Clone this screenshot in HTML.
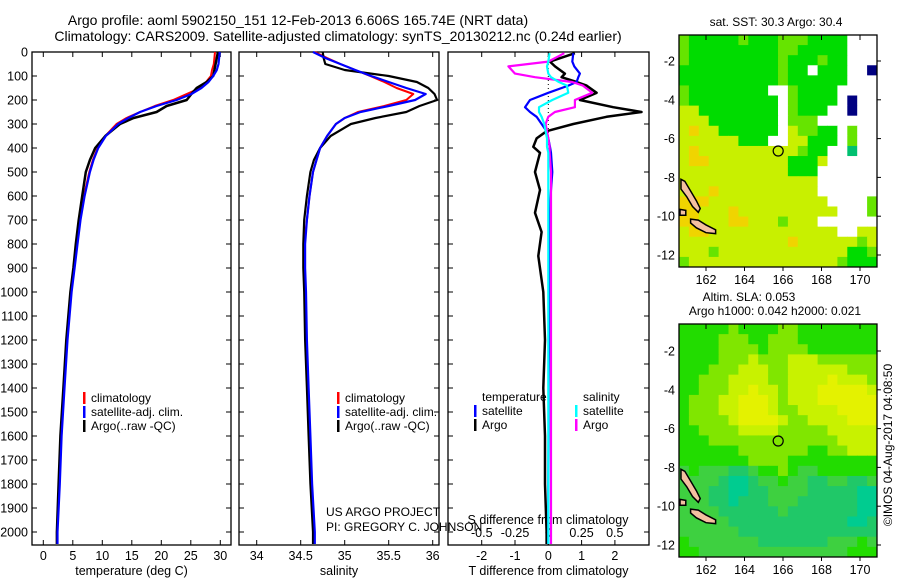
<!DOCTYPE html>
<html><head><meta charset="utf-8"><style>
html,body{margin:0;padding:0;background:#fff;}
svg{display:block;font-family:"Liberation Sans",sans-serif;}
</style></head><body>
<svg id="fig" width="900" height="580" viewBox="0 0 900 580" xmlns="http://www.w3.org/2000/svg">
<rect width="900" height="580" fill="#fff"/>
<text x="298" y="25" font-size="14" text-anchor="middle">Argo profile: aoml 5902150_151 12-Feb-2013 6.606S 165.74E (NRT data)</text>
<text x="338" y="41" font-size="14" text-anchor="middle">Climatology: CARS2009. Satellite-adjusted climatology: synTS_20130212.nc (0.24d earlier)</text>
<g id="p1"></g>
<g id="p2"></g>
<g id="p3"></g>
<g id="m1"></g>
<g id="m2"></g>
<text x="326" y="516" font-size="12">US ARGO PROJECT</text>
<text x="326" y="531" font-size="12">PI: GREGORY C. JOHNSON</text>
<text transform="translate(892,445) rotate(-90)" font-size="12" text-anchor="middle">©IMOS 04-Aug-2017 04:08:50</text>
</svg>
<script>
// ---- profile data ----
const depths = [0,25,50,75,100,125,150,175,200,225,250,275,300,350,400,450,500,600,700,800,900,1000,1200,1400,1600,1800,2000,2050];
const tempClim = [29.1,29.0,28.9,28.6,28.4,27.6,26.6,24.3,22.0,18.9,16.4,14.1,12.4,10.5,9.2,8.4,7.8,6.9,6.2,5.7,5.2,4.7,4.0,3.5,3.0,2.7,2.3,2.3];
const tempSat = [29.9,29.8,29.7,29.4,28.8,28.0,26.8,25.1,22.6,19.2,16.4,14.4,12.7,10.6,9.3,8.5,7.9,7.0,6.3,5.8,5.3,4.8,4.1,3.6,3.1,2.8,2.4,2.4];
const tempArgo = [29.6,29.4,29.2,29.0,28.8,27.7,26.0,25.1,24.3,20.9,19.2,15.3,13.0,10.5,8.8,7.9,7.2,6.6,6.0,5.5,5.1,4.6,3.9,3.4,2.9,2.6,2.3,2.3];
const salClim = [34.66,34.8,34.95,35.12,35.29,35.45,35.59,35.78,35.7,35.45,35.15,35.0,34.9,34.8,34.72,34.68,34.64,34.6,34.57,34.54,34.54,34.55,34.56,34.58,34.6,34.62,34.65,34.65];
const salSat = [34.64,34.78,34.95,35.12,35.3,35.5,35.7,35.92,35.8,35.5,35.18,35.0,34.9,34.8,34.72,34.68,34.64,34.6,34.57,34.55,34.55,34.56,34.57,34.59,34.61,34.63,34.66,34.66];
const salArgo = [34.75,34.76,34.78,35.0,35.5,35.82,35.95,36.02,36.05,35.85,35.7,35.35,35.07,34.84,34.72,34.65,34.61,34.57,34.54,34.53,34.53,34.54,34.55,34.57,34.59,34.61,34.64,34.64];
const diffDepths = [5,40,60,90,105,125,140,170,200,230,250,270,300,330,360,395,420,500,575,670,750,850,1000,1200,1400,1600,1800,2000,2050];
const tDiffArgo = [0.8,0.05,0.2,0.5,0.4,0.85,1.15,1.45,0.95,1.95,2.8,1.75,0.75,-0.05,-0.35,-0.45,-0.25,-0.4,-0.25,-0.4,-0.2,-0.3,-0.15,-0.1,-0.15,-0.1,-0.1,-0.05,-0.05];
const tDiffSat = [0.75,0.72,0.78,0.95,0.9,0.85,0.6,0.0,-0.55,-0.7,-0.55,-0.35,-0.2,-0.05,0.0,0.05,0.08,0.12,0.08,0.05,0.04,0.03,0.02,0.02,0.01,0.01,0.0,0.0,0.0];
const sDiffArgo = [0.12,0.0,-0.3,-0.25,-0.1,0.18,0.26,0.33,0.2,0.2,0.05,0.0,-0.02,-0.01,0.0,0.01,0.01,0.02,0.02,0.02,0.02,0.02,0.02,0.02,0.02,0.02,0.02,0.02,0.02];
const sDiffSat = [0.01,0.0,-0.01,0.0,0.02,0.08,0.14,0.15,0.03,-0.07,-0.07,-0.05,-0.03,-0.02,-0.01,-0.01,0.0,0.0,0.0,0.0,0.0,0.0,0.0,0.0,0.0,0.0,0.0,0.0,0.0];
const depthTicks = [0,100,200,300,400,500,600,700,800,900,1000,1100,1200,1300,1400,1500,1600,1700,1800,1900,2000];
const tempTicks = [0,5,10,15,20,25,30];
const salTicks = [34,34.5,35,35.5,36];
const tDiffTicks = [-2,-1,0,1,2];
const sDiffTicks = [-0.5,-0.25,0,0.25,0.5];
// ---- map data ----
const sstGrid = [
"gGGGGGgGGGgggGGGGwww","gGGGGGGGGGggGGGGGwww","gGGGGGGGGGgGGGgGGwww","GGGGGGGGGGgGGwGGGwwn",
"GGGGGGGGGGgGGGGGGwww","gGGGGGGGGwwgGGGGwwww","gGGGGGGGGGwgGGGGwnww","yyGGGGGGGGwgGGGwwnww",
"yyyGGGGGGGwgggwwwwww","yoyyGGGGGGwyggGGwgww","yyyyyyGGGwwyyGGGwgww","yoyyyyyyyyyygGGwwtww",
"yooyyyyyyyyGGGywwwww","yyyyyyyyyyyGGGwwwwww","yyyyyyyyyyyyyywwwwww","yyyoyyyyyyyyyywwwwww",
"oooyyyyyyyyyyyywwwwg","ooyyyoyyyyyyyyyywwwg","ooyyyooyyygyyywwwwww","yooyyyyyyyyyyyyywwyy",
"yyyyyyyyyyyoyyyyyygy","yyygyyyyyyyyyyyyyGGg","gyyyyyyyyyyyyyyygGGG"];
const slaGrid = [
"GGGGGLGGGGLLGGGGGGGG","GGGGLLLGGLLLGGGGGGGG","GGGGLLLLGLLLLGGGGGGG","GGGGLLLYLLLYYYLLLLLL",
"GGGLLLYYYLLYYYYYYLLL","GGLLLYYYYLLYYYYZYYYL","GGLLLYYZYYLYYYZZZZZY","GLLLYYZZZYLYYYZZZZZZ",
"GLLLYYZZZYLLYYYYZZZZ","GLLLLYZZZZYLLYYYYZZZ","GGLLLLYYYYLLLLLYYYYY","GGGLLLLLLLLLLLLLYYYY",
"GGGGGGLLLLLLLGGLLYYY","GGGGGGGLLLLGGGGGGGGG","MGMMMTTMGGLGMMGGGGGG","MMMMTCCTMMGMMTTMMTTM",
"MMMTTCCTTMMMMTTTTTCC","MMMTTCTTTMMMTTTTTTCC","MMMMTTTTTTMTTTTTTTCC","MMMMMTTTTTTTTTTTTCCT",
"MMMMMMTTTTTTTTTTTTTT","GMMMMMMMTTTTTTTMMMGM","GGMMMMMMMMMMMMMMMGGG"];
const lonTicks = [162,164,166,168,170];
const latTicks = [-2,-4,-6,-8,-10,-12];
const floatLon = [165.75];
const floatLat = [-6.64];
const island1Lon = [160.7,160.9,161.2,161.5,161.7,161.6,161.3,161.0,160.7];
const island1Lat = [-8.1,-8.2,-8.7,-9.2,-9.6,-9.8,-9.5,-9.0,-8.6];
const island2Lon = [161.2,161.6,162.0,162.5,162.5,162.0,161.5,161.2];
const island2Lat = [-10.15,-10.2,-10.45,-10.7,-10.9,-10.85,-10.6,-10.35];
const island3Lon = [160.65,160.95,160.95,160.65];
const island3Lat = [-9.65,-9.7,-9.95,-9.95];

const NS='http://www.w3.org/2000/svg';
function mk(parent,tag,attrs,txt){const e=document.createElementNS(NS,tag);for(const k in attrs)e.setAttribute(k,attrs[k]);if(txt!==undefined)e.textContent=txt;parent.appendChild(e);return e;}
const TOP=52,BOT=545;
const yD=d=>TOP+0.24*d;

function panel(gid,x0,x1,xScale,ticks,fmt,title,showDepth){
  const g=document.getElementById(gid);
  const fr=mk(g,'rect',{x:x0,y:TOP,width:x1-x0,height:BOT-TOP,fill:'none',stroke:'#000','stroke-width':1.3});
  
  
  depthTicks.forEach(d=>{
    const y=yD(d);
    mk(g,'line',{x1:x0,x2:x0+5,y1:y,y2:y,stroke:'#000'});
    mk(g,'line',{x1:x1-5,x2:x1,y1:y,y2:y,stroke:'#000'});
    if(showDepth){const t=mk(g,'text',{x:x0-4,y:y+4.5,'font-size':12.5,'text-anchor':'end'},String(d));
      
      }
  });
  ticks.forEach(v=>{
    const x=xScale(v);
    mk(g,'line',{x1:x,x2:x,y1:TOP,y2:TOP+5,stroke:'#000'});
    mk(g,'line',{x1:x,x2:x,y1:BOT-5,y2:BOT,stroke:'#000'});
    const t=mk(g,'text',{x:x,y:560,'font-size':12.5,'text-anchor':'middle'},fmt(v));
    
    
  });
  const tt=mk(g,'text',{x:(x0+x1)/2,y:575,'font-size':12.5,'text-anchor':'middle'},title);
  
  
  return g;
}
function line(g,xs,ds,xScale,color,w,name){
  const pts=xs.map((v,i)=>xScale(v).toFixed(1)+','+yD(ds[i]).toFixed(1)).join(' ');
  const p=mk(g,'polyline',{points:pts,fill:'none',stroke:color,'stroke-width':w,'stroke-linejoin':'round'});
  
  
}
function legend(g,x,y,color,label,name){
  if(color) mk(g,'rect',{x:x,y:y-10,width:2.5,height:12,fill:color});
  const t=mk(g,'text',{x:x+8,y:y,'font-size':12},label);
  
  
}
// Panel 1
const xT=v=>43.3+5.9*v;
const g1=panel('p1',32,231,xT,tempTicks,String,'temperature (deg C)',true);
line(g1,tempClim,depths,xT,'#f00',2,'temperature-climatology-line');
line(g1,tempArgo,depths,xT,'#000',2.5,'temperature-argo-line');
line(g1,tempSat,depths,xT,'#00f',2.2,'temperature-satellite-line');
legend(g1,83,402,'#f00','climatology','legend-climatology');
legend(g1,83,416,'#00f','satellite-adj. clim.','legend-satellite-adj');
legend(g1,83,430,'#000','Argo(..raw -QC)','legend-argo');
// Panel 2
const xS=v=>256.7+88*(v-34);
const g2=panel('p2',239,439,xS,salTicks,String,'salinity',false);
line(g2,salClim,depths,xS,'#f00',2,'salinity-climatology-line');
line(g2,salArgo,depths,xS,'#000',2.2,'salinity-argo-line');
line(g2,salSat,depths,xS,'#00f',2.2,'salinity-satellite-line');
legend(g2,337,402,'#f00','climatology','legend-climatology');
legend(g2,337,416,'#00f','satellite-adj. clim.','legend-satellite-adj');
legend(g2,337,430,'#000','Argo(..raw -QC)','legend-argo');
// Panel 3
const xTD=v=>548.3+33.3*v;
const xSD=v=>548.3+133*v;
const g3=panel('p3',448,649,xTD,tDiffTicks,String,'T difference from climatology',false);
mk(g3,'line',{x1:xTD(0),x2:xTD(0),y1:TOP,y2:BOT,stroke:'#000','stroke-dasharray':'1,3'});
sDiffTicks.forEach(v=>{const t=mk(g3,'text',{x:xSD(v),y:537,'font-size':12.5,'text-anchor':'middle'},String(v));
  
  });
const st=mk(g3,'text',{x:548,y:524,'font-size':12.5,'text-anchor':'middle'},'S difference from climatology');


line(g3,tDiffArgo,diffDepths,xTD,'#000',2.5,'t-diff-argo-line');
line(g3,tDiffSat,diffDepths,xTD,'#00f',2.2,'t-diff-satellite-line');
line(g3,sDiffArgo,diffDepths,xSD,'#f0f',2.2,'s-diff-argo-line');
line(g3,sDiffSat,diffDepths,xSD,'#0ff',2.2,'s-diff-satellite-line');
legend(g3,474,401,null,'temperature','legend-temperature-heading');
legend(g3,474,415,'#00f','satellite','legend-t-satellite');
legend(g3,474,429,'#000','Argo','legend-t-argo');
legend(g3,575,401,null,'salinity','legend-salinity-heading');
legend(g3,575,415,'#0ff','satellite','legend-s-satellite');
legend(g3,575,429,'#f0f','Argo','legend-s-argo');
// Maps
const MX0=679,MX1=877;
const lonX=l=>706+19.25*(l-162);
const sstColors={G:'#00dc00',g:'#66e400',y:'#c8f000',o:'#f0d400',w:'#ffffff',n:'#000080',t:'#00c070'};
const slaColors={G:'#22dc00',L:'#80e600',Y:'#c8f200',Z:'#e4f200',M:'#3ed040',T:'#20c868',C:'#00cc90'};
function map(gid,y0,y1,latY,grid,colors,titles){
  const g=document.getElementById(gid);
  const rows=grid.length,cols=grid[0].length;
  const cw=(MX1-MX0)/cols,ch=(y1-y0)/rows;
  grid.forEach((row,r)=>{for(let c=0;c<cols;c++){
    mk(g,'rect',{x:MX0+c*cw,y:y0+r*ch,width:cw+0.5,height:ch+0.5,fill:colors[row[c]]});}});
  [[island1Lon,island1Lat],[island2Lon,island2Lat],[island3Lon,island3Lat]].forEach(([lo,la])=>{
    const p=mk(g,'polygon',{points:lo.map((v,i)=>lonX(v)+','+latY(la[i])).join(' '),fill:'#f4c0a0',stroke:'#000','stroke-width':1.5});
    
    
  });
  floatLon.forEach((lo,i)=>{const c=mk(g,'circle',{cx:lonX(lo),cy:latY(floatLat[i]),r:5,fill:'none',stroke:'#000','stroke-width':1.2});
    
    });
  mk(g,'rect',{x:MX0,y:y0,width:MX1-MX0,height:y1-y0,fill:'none',stroke:'#000','stroke-width':1.3});
  lonTicks.forEach(l=>{const x=lonX(l);
    mk(g,'line',{x1:x,x2:x,y1:y0,y2:y0+5,stroke:'#000'});
    mk(g,'line',{x1:x,x2:x,y1:y1,y2:y1+4,stroke:'#000'});
    const t=mk(g,'text',{x:x,y:y1+17,'font-size':12.5,'text-anchor':'middle'},String(l));
    
    });
  latTicks.forEach(l=>{const y=latY(l);
    mk(g,'line',{x1:MX1,x2:MX1+4,y1:y,y2:y,stroke:'#000'});
    const t=mk(g,'text',{x:MX0-4,y:y+4.5,'font-size':12.5,'text-anchor':'end'},String(l));
    
    });
  titles.forEach((s,i)=>{const t=mk(g,'text',{x:s[1],y:s[2],'font-size':12,'text-anchor':'middle'},s[0]);
    
    });
}
map('m1',35,267,l=>61+19.4*(-2-l),sstGrid,sstColors,[['sat. SST: 30.3  Argo: 30.4',776,26]]);
map('m2',324,557,l=>351+19.4*(-2-l),slaGrid,slaColors,[['Altim. SLA: 0.053',749,301],['Argo h1000: 0.042 h2000: 0.021',775,315]]);
</script>
</body></html>
